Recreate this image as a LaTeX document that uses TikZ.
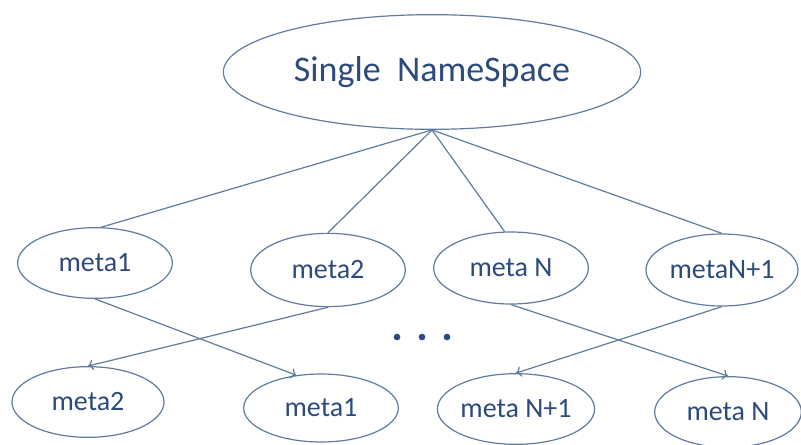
\documentclass[tikz,border=0pt]{standalone}
\usepackage{fontspec}
\setmainfont{Carlito}
\usetikzlibrary{shapes.geometric,arrows.meta}
\definecolor{lineblue}{HTML}{5F7C9E}
\definecolor{textblue}{HTML}{2C4A7C}
\tikzset{
	meta/.style 2 args={ellipse,draw=lineblue,line width=0.9pt,inner sep=0pt,
		minimum width=#1,minimum height=#2,text=textblue,font=\fontsize{21}{24}\selectfont},
	link/.style={draw=lineblue,line width=0.9pt},
	move/.style={link,-{To[length=4pt,width=8pt]}},
	dot/.style={circle,inner sep=0pt,minimum size=5pt,fill=textblue}
}

\begin{document}
\begin{tikzpicture}[x=0.75pt,y=-0.75pt]
	\useasboundingbox (0,0) rectangle (801,444);
	\node [meta={313pt}{86pt},font=\fontsize{27}{31}\selectfont] (ns) at (432,72) {Single\ \ NameSpace};

	\node [meta={116pt}{53pt}] (m1) at (95,263) {meta1};
	\node [meta={116pt}{55pt}] (m2) at (328,270) {meta2};
	\node [meta={116pt}{54pt}] (mn) at (511,268) {meta N};
	\node [meta={114pt}{54pt}] (mm) at (722,270) {metaN+1};

	\node [meta={114pt}{53pt}] (b2) at (88,402) {meta2};
	\node [meta={116pt}{51pt}] (b1) at (321,408) {meta1};
	\node [meta={116pt}{53pt}] (bm) at (516,409) {meta N+1};
	\node [meta={110pt}{53pt}] (bn) at (728,412) {meta N};

	\draw [link] (ns.south) -- (m1.80);
	\draw [link] (ns.south) -- (m2.north);
	\draw [link] (ns.south) -- (mn.100);
	\draw [link] (ns.south) -- (mm.north);

	\draw [move] (m1.south) -- (b1.127);
	\draw [move] (m2.south) -- (b2.north);
	\draw [move] (mn.south) -- (bn.north);
	\draw [move] (mm.south) -- (bm.north);

	\node [dot] (d1) at (397,337) {};
	\node [dot] (d2) at (422,337) {};
	\node [dot] (d3) at (447,337) {};
\end{tikzpicture}
\end{document}
